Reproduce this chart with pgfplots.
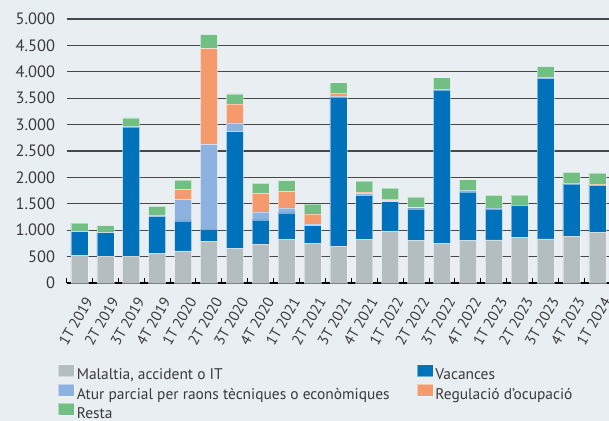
\documentclass[border=0pt]{standalone}
\usepackage{fontspec}
\setmainfont{PT Sans}
\usepackage{pgfplots}
\pgfplotsset{compat=1.18}
\definecolor{cBg}{HTML}{E9EEF3}
\definecolor{cTxt}{HTML}{3A3A3A}
\definecolor{cGray}{HTML}{B4BEC1}
\definecolor{cBlue}{HTML}{0071BB}
\definecolor{cLBlue}{HTML}{8DB2E0}
\definecolor{cOrange}{HTML}{F59A6C}
\definecolor{cGreen}{HTML}{71BF83}

% segments per quarter: x, value
\pgfplotstableread{
x malaltia vacances atur regulacio resta
0  520  455    5    0  155
1  506  450    5    0  125
2  506 2450    8    0  163
3  557  703   25    0  165
4  608  569  406  183  184
5  791  228 1608 1810  266
6  652 2216  164  361  190
7  728  468  146  354  190
8  829  500   95  310  203
9  747  342   25  190  190
10 696 2823   19   57  197
11 823  836   38   25  209
12 975  563   19   32  209
13 804  601   20    5  197
14 753 2899   19    0  216
15 804  918   38    0  195
16 817  588   19    0  234
17 861  608    5    0  191
18 836 3038   25    0  197
19 886  988   19    0  202
20 962  886    5   21  209
}\dades
\usepackage{pgfplotstable}

\begin{document}
\begin{tikzpicture}
\fill[cBg,use as bounding box] (-66.5bp,-138bp) rectangle (542.5bp,283bp);
\begin{axis}[
  at={(0,0)}, anchor=south west,
  scale only axis, width=542.5bp, height=264bp,
  ybar stacked, bar width=17bp,
  xmin=-0.5, xmax=20.45, ymin=0, ymax=5000,
  axis x line*=bottom, axis y line*=left,
  y axis line style={draw=none},
  x axis line style={black, line width=1.3bp},
  ytick={0,500,...,5000},
  xtick={0,...,20},
  xticklabels={1T 2019,2T 2019,3T 2019,4T 2019,1T 2020,2T 2020,3T 2020,4T 2020,1T 2021,2T 2021,3T 2021,4T 2021,1T 2022,2T 2022,3T 2022,4T 2022,1T 2023,2T 2023,3T 2023,4T 2023,1T 2024},
  minor xtick={-0.5,0.5,...,19.5},
  major tick length=0pt, minor tick length=5bp, tick align=inside,
  minor x tick style={black, line width=1bp},
  ymajorgrids, major grid style={black!72, line width=1.1bp},
  /pgf/number format/.cd, 1000 sep={.}, assume math mode=true, /pgfplots/.cd,
  yticklabel style={font=\fontsize{16.5}{18}\selectfont, text=cTxt, anchor=east, xshift=-8bp},
  xticklabel style={font=\fontsize{15}{17}\selectfont, text=cTxt, rotate=60, anchor=north east, xshift=-5bp, yshift=-7bp},
  every axis plot/.append style={draw=white, draw opacity=0.45, line width=0.6bp},
  legend columns=2,
  legend cell align=left,
  legend image code/.code={\fill[#1] (0bp,-1.5bp) rectangle (16bp,10.5bp);},
  legend style={at={(0,0)}, anchor=north west, xshift=-8.5bp, yshift=-81bp,
    draw=none, fill=none, inner sep=0pt, row sep=0.3bp,
    font=\fontsize{15.5}{17}\selectfont, text=cTxt,
    /tikz/every even column/.append style={column sep=0bp}},
]
\addplot[fill=cGray]   table[x=x,y=malaltia]  {\dades};
\addplot[fill=cBlue]   table[x=x,y=vacances]  {\dades};
\addplot[fill=cLBlue]  table[x=x,y=atur]      {\dades};
\addplot[fill=cOrange] table[x=x,y=regulacio] {\dades};
\addplot[fill=cGreen]  table[x=x,y=resta]     {\dades};
\addlegendentry{\makebox[338bp][l]{Malaltia, accident o IT}}
\addlegendentry{Vacances}
\addlegendentry{\makebox[338bp][l]{Atur parcial per raons tècniques o econòmiques}}
\addlegendentry{Regulació d’ocupació}
\addlegendentry{Resta}
\end{axis}
\end{tikzpicture}
\end{document}
